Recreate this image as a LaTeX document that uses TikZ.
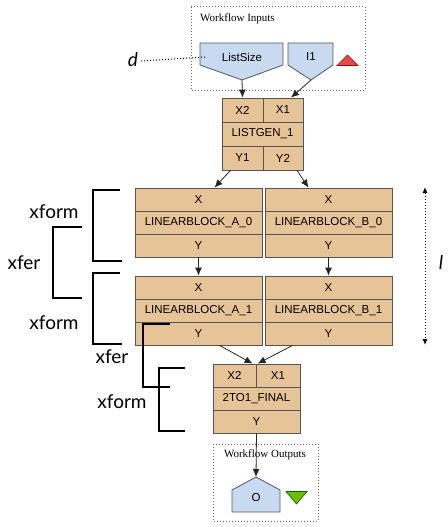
\documentclass[tikz,border=0pt]{standalone}
\usepackage{fontspec}
\setmainfont{Liberation Serif}
\setsansfont{Liberation Sans}
\newfontfamily\annot{Lato}
\usetikzlibrary{arrows.meta,calc}
\definecolor{blockfill}{RGB}{231,196,152}
\definecolor{portfill}{RGB}{200,218,240}
\definecolor{redtri}{RGB}{228,76,76}
\definecolor{greentri}{RGB}{110,190,0}
\definecolor{edgegray}{RGB}{85,85,85}
\begin{document}
\begin{tikzpicture}[x=1pt,y=-1pt,
  cell/.style={draw=edgegray, fill=blockfill, inner sep=0pt, line width=0.8pt,
    font=\sffamily\fontsize{11.5}{13}\selectfont, minimum height=23pt},
  port/.style={draw=edgegray, fill=portfill, line width=0.8pt},
  ptext/.style={font=\sffamily\fontsize{11.5}{13}\selectfont, inner sep=0pt},
  conn/.style={draw=black!85, line width=0.8pt, -{Latex[length=8pt,width=7pt]}},
  dotbox/.style={draw=gray!80!black, dotted, line width=1pt},
  boxtitle/.style={font=\rmfamily\fontsize{11}{13}\selectfont, inner sep=0pt},
  brk/.style={draw=black, line width=1.6pt},
  annotlabel/.style={font=\annot\fontsize{19}{22}\selectfont, inner sep=0pt},
  annotit/.style={font=\annot\itshape\fontsize{19}{22}\selectfont, inner sep=0pt}]
\useasboundingbox (0,0) rectangle (447,527);

% Workflow inputs
\draw[dotbox] (191,7) rectangle (365,90);
\node[boxtitle, anchor=west] (wfin) at (200,19) {Workflow Inputs};
\draw[port] (200,43) -- (283,43) -- (283,65) -- (242,80) -- (200,65) -- cycle;
\node[ptext] (ls) at (242,57) {ListSize};
\coordinate (lsTip) at (242,80);
\draw[port] (288,43) -- (333,43) -- (333,65) -- (311,80) -- (288,65) -- cycle;
\node[ptext] (ione) at (311,57) {I1};
\coordinate (i1Tip) at (311,80);
\draw[draw=red!60!black, fill=redtri, line width=0.6pt] (337,65.5) -- (358,65.5) -- (347.5,55) -- cycle;

% d label
\node[annotit] (dlab) at (133,60) {d};
\coordinate (dEnd) at (205,57);
\draw[dotted, line width=1pt] (dlab.east) ++(3,1) -- (dEnd);

% LISTGEN_1
\node[cell, minimum width=41pt, minimum height=24pt] (lgX2) at (242.5,110) {X2};
\node[cell, minimum width=40pt, minimum height=24pt] (lgX1) at (283,110) {X1};
\node[cell, minimum width=81pt, minimum height=24pt] (lgN) at (262.5,134) {LISTGEN\_1};
\node[cell, minimum width=41pt, minimum height=24pt] (lgY1) at (242.5,158) {Y1};
\node[cell, minimum width=40pt, minimum height=24pt] (lgY2) at (283,158) {Y2};

% LINEARBLOCK row 0
\node[cell, minimum width=127pt] (a0X) at (198.5,199.5) {X};
\node[cell, minimum width=127pt] (a0N) at (198.5,222.5) {LINEARBLOCK\_A\_0};
\node[cell, minimum width=127pt] (a0Y) at (198.5,245.5) {Y};
\node[cell, minimum width=127pt] (b0X) at (328.5,199.5) {X};
\node[cell, minimum width=127pt] (b0N) at (328.5,222.5) {LINEARBLOCK\_B\_0};
\node[cell, minimum width=127pt] (b0Y) at (328.5,245.5) {Y};

% LINEARBLOCK row 1
\node[cell, minimum width=127pt] (a1X) at (198.5,287.5) {X};
\node[cell, minimum width=127pt] (a1N) at (198.5,310.5) {LINEARBLOCK\_A\_1};
\node[cell, minimum width=127pt] (a1Y) at (198.5,333.5) {Y};
\node[cell, minimum width=127pt] (b1X) at (328.5,287.5) {X};
\node[cell, minimum width=127pt] (b1N) at (328.5,310.5) {LINEARBLOCK\_B\_1};
\node[cell, minimum width=127pt] (b1Y) at (328.5,333.5) {Y};

% 2TO1_FINAL
\node[cell, minimum width=43pt] (fX2) at (234.5,375.5) {X2};
\node[cell, minimum width=44pt] (fX1) at (278,375.5) {X1};
\node[cell, minimum width=87pt] (fN) at (256.5,398.5) {2TO1\_FINAL};
\node[cell, minimum width=87pt] (fY) at (256.5,421.5) {Y};

% Workflow outputs
\draw[dotbox] (213,444) rectangle (318,521);
\node[boxtitle] (wfout) at (265,455) {Workflow Outputs};
\draw[port] (232,512) -- (232,490) -- (256,477) -- (280,490) -- (280,512) -- cycle;
\node[ptext] (onode) at (256,498) {O};
\coordinate (oTop) at (256,477);
\draw[draw=green!40!black, fill=greentri, line width=0.6pt] (286,491.5) -- (307,491.5) -- (296.5,504) -- cycle;

% connectors
\draw[conn] (lsTip) -- (lgX2.north);
\draw[conn] (i1Tip) -- ([xshift=8pt]lgX1.north);
\draw[conn] ([xshift=-12pt]lgY1.south) -- ([xshift=16pt]a0X.north);
\draw[conn] ([xshift=14pt]lgY2.south) -- ([xshift=-20pt]b0X.north);
\draw[conn] (a0Y.south) -- (a1X.north);
\draw[conn] (b0Y.south) -- (b1X.north);
\draw[conn] ([xshift=21pt]a1Y.south) -- ([xshift=-3pt]fX1.north west);
\draw[conn] ([xshift=-36pt]b1Y.south) -- ([xshift=2pt]fX1.north west);
\draw[conn] (fY.south) -- (oTop);

% brackets
\draw[brk] (120,190) -- (93,190) -- (93,261) -- (122,261);
\draw[brk] (82,227) -- (53,227) -- (53,298) -- (82,298);
\draw[brk] (120,273) -- (93,273) -- (93,344) -- (122,344);
\draw[brk] (170,324) -- (143,324) -- (143,387) -- (170,387);
\draw[brk] (185,368) -- (159,368) -- (159,431) -- (185,431);
\node[annotlabel] (xform1) at (54,212) {xform};
\node[annotlabel] (xfer1) at (24,263) {xfer};
\node[annotlabel] (xform2) at (54,323) {xform};
\node[annotlabel] (xfer2) at (112,357) {xfer};
\node[annotlabel] (xform3) at (122,402) {xform};

% right dotted arrow
\coordinate (lTop) at (425,187);
\coordinate (lBot) at (425,345);
\draw[dotted, line width=1pt, {Latex[length=6pt,width=5pt]}-{Latex[length=6pt,width=5pt]}] (lTop) -- (lBot);
\node[annotit] (llab) at (441,263) {l};
\end{tikzpicture}
\end{document}
